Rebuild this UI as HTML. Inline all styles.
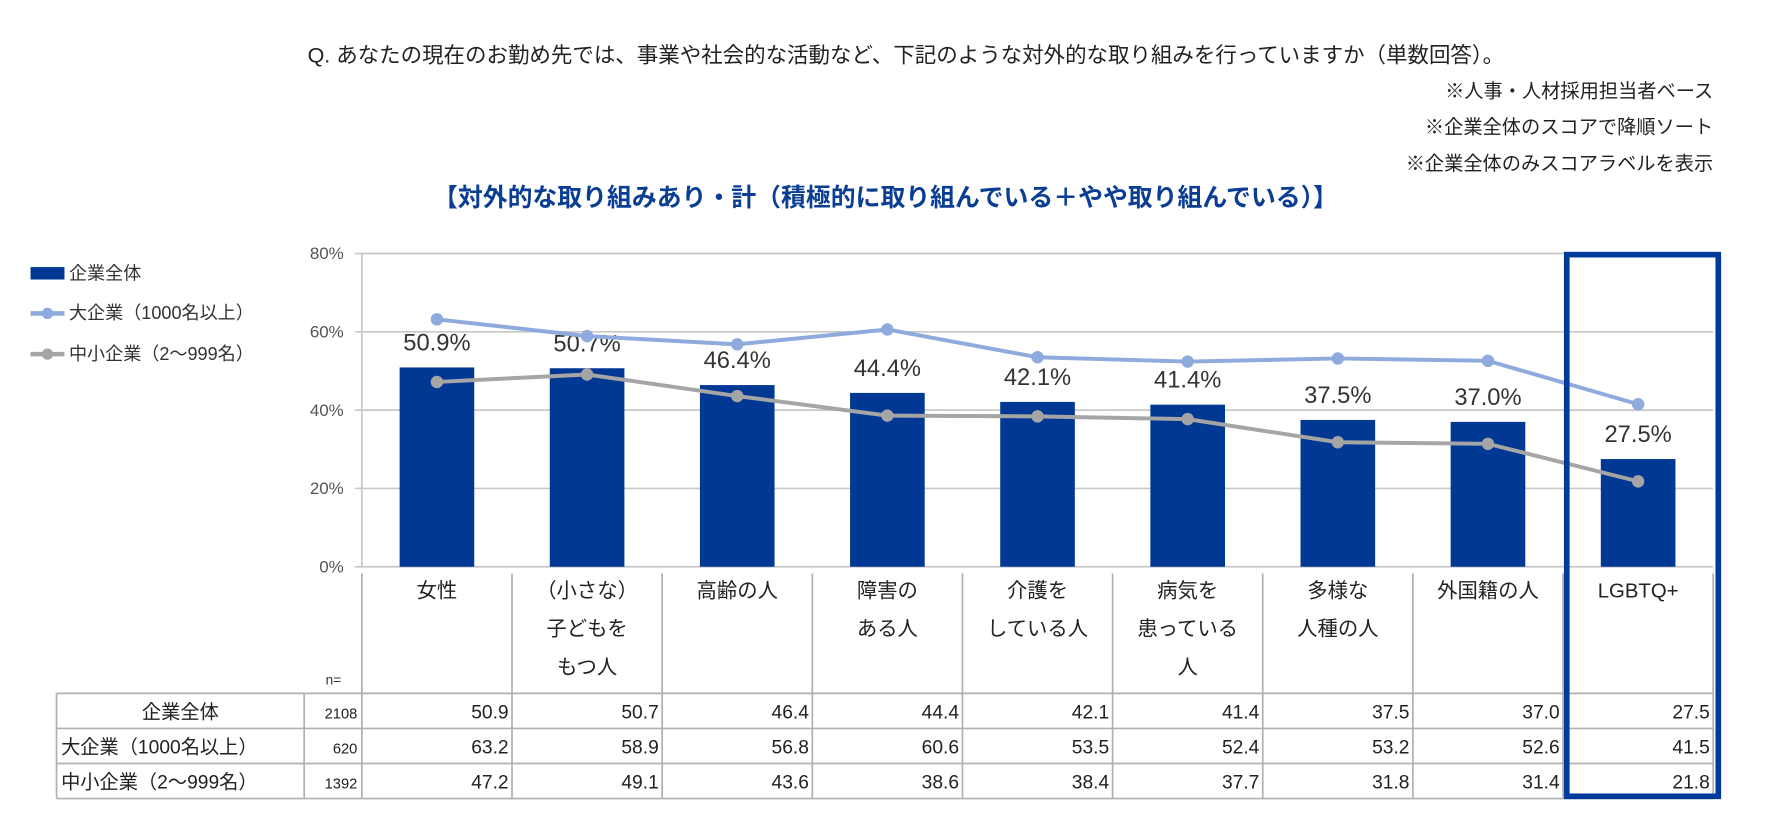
<!DOCTYPE html>
<html><head><meta charset="utf-8">
<style>
html,body{margin:0;padding:0;background:#fff;}
svg{display:block;}
text{font-family:"Liberation Sans","Noto Sans CJK JP",sans-serif;}
.cjk{font-family:"Noto Sans CJK JP","Liberation Sans",sans-serif;}
</style></head>
<body>
<svg id="chart" width="1772" height="818" viewBox="0 0 1567 723" xmlns="http://www.w3.org/2000/svg">
<text x="272" y="55" font-size="19" fill="#222">Q. あなたの現在のお勤め先では、事業や社会的な活動など、下記のような対外的な取り組みを行っていますか（単数回答）。</text>
<text class="cjk" x="1515" y="86" font-size="17" fill="#222" text-anchor="end">※人事・人材採用担当者ベース</text>
<text class="cjk" x="1515" y="118" font-size="17" fill="#222" text-anchor="end">※企業全体のスコアで降順ソート</text>
<text class="cjk" x="1515" y="150" font-size="17" fill="#222" text-anchor="end">※企業全体のみスコアラベルを表示</text>
<text class="cjk" x="783" y="182" font-size="22" font-weight="bold" fill="#0a3d94" text-anchor="middle">【対外的な取り組みあり・計（積極的に取り組んでいる＋やや取り組んでいる）】</text>

<g>
<rect x="27" y="236" width="30" height="11" fill="#003894"/>
<text x="61" y="247" font-size="16" fill="#333">企業全体</text>
<line x1="27" y1="277" x2="57" y2="277" stroke="#8faadc" stroke-width="4"/>
<circle cx="42" cy="277" r="5" fill="#8faadc"/>
<text x="61" y="282" font-size="16" fill="#333">大企業（1000名以上）</text>
<line x1="27" y1="313" x2="57" y2="313" stroke="#a5a5a5" stroke-width="4"/>
<circle cx="42" cy="313" r="5" fill="#a5a5a5"/>
<text x="61" y="318" font-size="16" fill="#333">中小企業（2〜999名）</text>
</g>
<g id="plot"></g>
<rect x="1385.5" y="225" width="134" height="479" fill="none" stroke="#003a9b" stroke-width="5"/>
</svg>
<script>
const categories=[["女性"],["（小さな）","子どもを","もつ人"],["高齢の人"],["障害の","ある人"],["介護を","している人"],["病気を","患っている","人"],["多様な","人種の人"],["外国籍の人"],["LGBTQ+"]];
const allValues=[50.9,50.7,46.4,44.4,42.1,41.4,37.5,37.0,27.5];
const largeValues=[63.2,58.9,56.8,60.6,53.5,52.4,53.2,52.6,41.5];
const smallValues=[47.2,49.1,43.6,38.6,38.4,37.7,31.8,31.4,21.8];
const rowLabels=["企業全体","大企業（1000名以上）","中小企業（2〜999名）"];
const rowN=["2108","620","1392"];
const yTicks=[0,20,40,60,80];

const NS="http://www.w3.org/2000/svg";
const g=document.getElementById('plot');
const L=320,R=1515,T=224,B=501,YMAX=80;
const cw=(R-L)/categories.length;
const xc=i=>L+cw*(i+0.5);
const y=v=>B-(v/YMAX)*(B-T);
function el(tag,attrs,txt){const e=document.createElementNS(NS,tag);for(const k in attrs)e.setAttribute(k,attrs[k]);if(txt!==undefined)e.textContent=txt;g.appendChild(e);return e;}

yTicks.forEach(t=>{
 const ln=el('line',{x1:L-6,x2:R,y1:y(t),y2:y(t),stroke:'#c8c8c8','stroke-width':1.5});
 
 
 const tx=el('text',{x:L-16,y:y(t)+5,'font-size':15,fill:'#555','text-anchor':'end'},t+'%');
 
 
});
el('line',{x1:L,x2:L,y1:T,y2:B,stroke:'#c8c8c8','stroke-width':1.5});

allValues.forEach((v,i)=>{
 const b=el('rect',{x:xc(i)-33,y:y(v),width:66,height:B-y(v),fill:'#003894'});
 
 
 const t=el('text',{x:xc(i),y:y(v)-15,'font-size':21,fill:'#333','text-anchor':'middle'},v.toFixed(1)+'%');
 
 
});
function series(vals,color,name){
 const p=el('polyline',{points:vals.map((v,i)=>xc(i)+','+y(v)).join(' '),fill:'none',stroke:color,'stroke-width':3.5});
 
 
 vals.forEach((v,i)=>{
  const c=el('circle',{cx:xc(i),cy:y(v),r:5.5,fill:color});
  
  
 });
}
series(largeValues,'#8faadc','large');
series(smallValues,'#a5a5a5','small');

const TT=613,RH=31;
for(let i=0;i<=categories.length;i++){
 el('line',{x1:L+cw*i,x2:L+cw*i,y1:B+6,y2:TT+RH*3,stroke:'#b0b0b0','stroke-width':1.5});
}
categories.forEach((lines,i)=>{
 lines.forEach((s,j)=>{
  const t=el('text',{x:xc(i),y:528+j*34,'font-size':18,fill:'#222','text-anchor':'middle'},s);
  
  
 });
});
el('text',{x:288,y:605,'font-size':12,fill:'#333'},'n=');

const TL=50,C1=269;
for(let r=0;r<=3;r++) el('line',{x1:TL,x2:R,y1:TT+RH*r,y2:TT+RH*r,stroke:'#b0b0b0','stroke-width':1.5});
[TL,C1].forEach(x=>el('line',{x1:x,x2:x,y1:TT,y2:TT+RH*3,stroke:'#b0b0b0','stroke-width':1.5}));
const rows=[allValues,largeValues,smallValues];
rows.forEach((vals,r)=>{
 const cy=TT+RH*r+22;
 const lb=el('text',{x:r===0?(TL+C1)/2:TL+4,y:cy,'font-size':17,fill:'#222','text-anchor':r===0?'middle':'start'},rowLabels[r]);
 
 
 const n=el('text',{x:L-4,y:cy,'font-size':13,fill:'#222','text-anchor':'end'},rowN[r]);
 
 
 vals.forEach((v,i)=>{
  const t=el('text',{x:L+cw*(i+1)-3,y:cy,'font-size':17,fill:'#222','text-anchor':'end'},v.toFixed(1));
  
  
 });
});
</script>
</body></html>
